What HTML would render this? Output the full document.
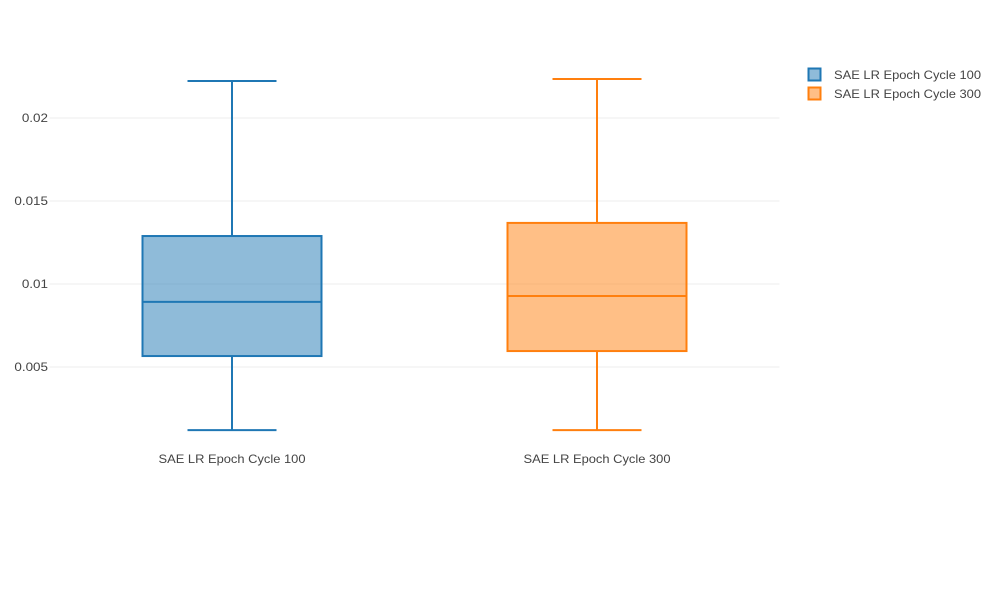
<!DOCTYPE html>
<html><head><meta charset="utf-8"><style>
body{margin:0;background:#fff;font-family:"Liberation Sans",sans-serif}
</style></head><body>
<svg width="1000" height="600" xmlns="http://www.w3.org/2000/svg">
<g id="grid"></g><g id="boxes"></g><g id="labels"></g>
<g font-size="12" fill="#444">
 <g>
  <rect x="808.5" y="68.5" width="12" height="12" fill="rgba(31,119,180,0.5)" stroke="#1f77b4" stroke-width="2"/>
  <text x="834" y="79" textLength="147" lengthAdjust="spacingAndGlyphs">SAE LR Epoch Cycle 100</text></g>
 <g>
  <rect x="808.5" y="87.5" width="12" height="12" fill="rgba(255,127,14,0.5)" stroke="#ff7f0e" stroke-width="2"/>
  <text x="834" y="98" textLength="147" lengthAdjust="spacingAndGlyphs">SAE LR Epoch Cycle 300</text></g>
</g>
</svg>
<script>
const categories=["SAE LR Epoch Cycle 100","SAE LR Epoch Cycle 300"];
const mins=[0.0012,0.0012];
const q1s=[0.00566,0.00596];
const medians=[0.00892,0.00928];
const q3s=[0.01289,0.01368];
const maxs=[0.02223,0.02235];
const yTicks=[0.005,0.01,0.015,0.02];
const yTickLabels=["0.005","0.01","0.015","0.02"];
const colors=["#1f77b4","#ff7f0e"];
const fills=["rgba(31,119,180,0.5)","rgba(255,127,14,0.5)"];
const NS="http://www.w3.org/2000/svg";
const x0=49.5,x1=779.5;
const band=(x1-x0)/categories.length;
const xc=i=>x0+band*(i+0.5);
const y=v=>284-(v-0.01)*16600;
function mk(tag,attrs,parent){const e=document.createElementNS(NS,tag);for(const k in attrs)e.setAttribute(k,attrs[k]);parent.appendChild(e);return e;}
const grid=document.getElementById('grid'),boxes=document.getElementById('boxes'),labels=document.getElementById('labels');
yTicks.forEach((t,i)=>{
 const l=mk('line',{x1:x0,x2:x1,y1:y(t),y2:y(t),stroke:'#eee','stroke-width':1},grid);
 
 
 const tx=mk('text',{x:48,y:y(t)+4,'text-anchor':'end','font-size':12,fill:'#444'},labels);
 tx.textContent=yTickLabels[i];
 
 
 const w=tx.getComputedTextLength();
 tx.setAttribute('textLength',w*1.12);
 tx.setAttribute('lengthAdjust','spacingAndGlyphs');
});
categories.forEach((c,i)=>{
 const cx=xc(i),hw=89.5,cw=44.5,col=colors[i];
 const g=mk('g',{stroke:col,'stroke-width':2,fill:'none'},boxes);
 
 
 mk('rect',{x:cx-hw,y:y(q3s[i]),width:2*hw,height:y(q1s[i])-y(q3s[i]),fill:fills[i]},g);
 mk('line',{x1:cx-hw,x2:cx+hw,y1:y(medians[i]),y2:y(medians[i])},g);
 mk('line',{x1:cx,x2:cx,y1:y(q3s[i]),y2:y(maxs[i])},g);
 mk('line',{x1:cx,x2:cx,y1:y(q1s[i]),y2:y(mins[i])},g);
 mk('line',{x1:cx-cw,x2:cx+cw,y1:y(maxs[i]),y2:y(maxs[i])},g);
 mk('line',{x1:cx-cw,x2:cx+cw,y1:y(mins[i]),y2:y(mins[i])},g);
 const tx=mk('text',{x:cx,y:463,'text-anchor':'middle','font-size':12,fill:'#444',textLength:147,lengthAdjust:'spacingAndGlyphs'},labels);
 tx.textContent=c;
 
 
});
</script>
</body></html>
